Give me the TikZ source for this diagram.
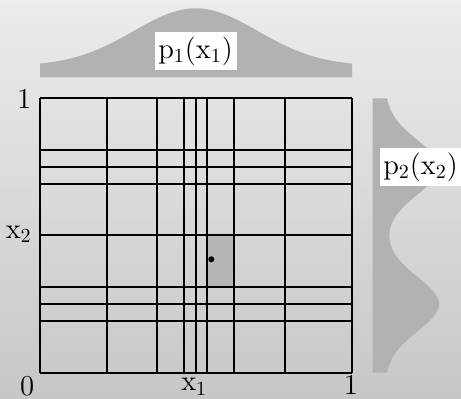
\documentclass[tikz,border=0pt]{standalone}
\usepackage{amsmath}
\usepackage{tikz}
\usetikzlibrary{positioning}
\definecolor{densgray}{gray}{0.70}
\definecolor{bgtop}{gray}{0.925}
\definecolor{bgbot}{gray}{0.78}
\tikzset{
  density/.style={fill=densgray},
  gridline/.style={line width=1pt, black},
  cellfill/.style={fill=densgray!95!white},
  plabel/.style={fill=white, inner sep=0pt, minimum width=41pt, minimum height=19pt, font=\fontsize{14}{17}\selectfont},
  axlabel/.style={inner sep=0pt, anchor=base, font=\fontsize{14}{17}\selectfont}
}

\begin{document}
\begin{tikzpicture}[x=0.5pt, y=-0.5pt]
      \useasboundingbox (0,0) rectangle (461,399);
      \shade[top color=bgtop, bottom color=bgbot] (0,0) rectangle (461,399);
      % marginal densities
      \fill[density] (40,77.3) -- plot[domain=40:352, samples=90]
        (\x, {66-57.7*exp(-((\x-195.75)/62)^2/2)}) -- (352,77.3) -- cycle;
      \fill[density] (372.7,98.3) -- plot[variable=\t, domain=98.3:372.7, samples=120]
        ({385+54*(exp(-((\t-167.3)/27)^2/2)+exp(-((\t-304.1)/27)^2/2))}, \t) -- (372.7,372.7) -- cycle;
      % selected cell and grid
      \fill[cellfill] (207.3,235.3) rectangle (234.3,287);
      \foreach \gx in {40,106.7,156.7,184.3,195.7,207.3,234.3,285.3,352}
        \draw[gridline] (\gx,98.3) -- (\gx,372.7);
      \foreach \gy in {98.3,150,167.3,184.3,235.3,287,304.3,321.3,372.7}
        \draw[gridline] (40,\gy) -- (352,\gy);
      \fill (211.3,259.3) circle (3);
      % labels
      \node[axlabel] (topone) at (24.2,108.3) {$1$};
      \node[axlabel] (xtwo) at (18.7,238.3) {$\mathrm{x}_2$};
      \node[axlabel] (zero) at (27.3,395.5) {$0$};
      \node[axlabel] (xone) at (194.2,391) {$\mathrm{x}_1$};
      \node[axlabel] (rightone) at (350.8,394.5) {$1$};
      \node[plabel] (pone) at (195.5,51) {$\mathrm{p}_1(\mathrm{x}_1)$};
      \node[plabel] (ptwo) at (420.5,167.3) {$\mathrm{p}_2(\mathrm{x}_2)$};
    \end{tikzpicture}
\end{document}
